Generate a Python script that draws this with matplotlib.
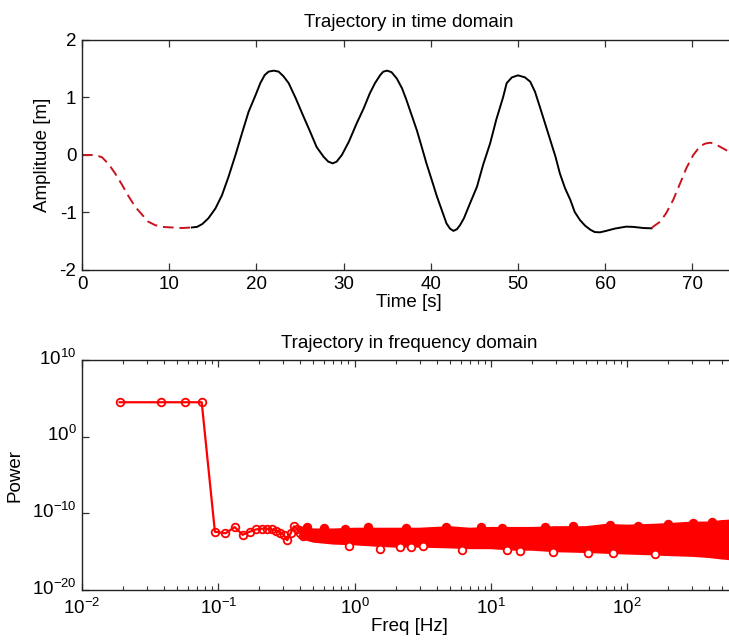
import matplotlib
matplotlib.use('Agg')
import matplotlib.pyplot as plt
import matplotlib.transforms as mtransforms
import numpy as np
from matplotlib.ticker import FixedLocator, NullFormatter, LogLocator

plt.rcParams['font.family'] = ['Liberation Sans', 'DejaVu Sans']
plt.rcParams['mathtext.fontset'] = 'custom'
plt.rcParams['mathtext.rm'] = 'Liberation Sans'
plt.rcParams['mathtext.default'] = 'regular'
plt.rcParams['axes.unicode_minus'] = False

# ---------------- time domain data ----------------
t_red1 = [0.0, 1.5, 2.3, 3.06, 3.8, 4.6, 5.35, 6.1, 6.9, 7.6, 8.4, 9.2, 10.3, 11.5, 12.6]
a_red1 = [0.0, 0.0, -0.04, -0.16, -0.32, -0.52, -0.72, -0.90, -1.04, -1.16, -1.22, -1.25,
          -1.26, -1.27, -1.26]

t_black = [12.6, 13.2, 13.8, 14.5, 15.3, 16.05, 16.8, 17.6, 18.35, 19.1, 19.9, 20.45,
           20.95, 21.4, 22.0, 22.55, 23.1, 23.7, 24.5, 25.4, 26.15, 26.9, 27.7, 28.25,
           28.75, 29.2, 29.8, 30.6, 31.5, 32.3, 33.0, 33.6, 34.2, 34.55, 35.0, 35.5,
           36.1, 36.7, 37.2, 38.4, 38.95, 39.5, 40.1, 40.7, 41.45, 41.8, 42.2, 42.6,
           43.0, 43.35, 43.8, 44.5, 45.3, 46.0, 46.8, 47.5, 48.3, 48.7, 49.3, 50.0,
           50.8, 51.4, 51.95, 52.5, 53.1, 53.7, 54.3, 54.8, 55.4, 56.0, 56.5, 57.1,
           57.7, 58.3, 58.8, 59.4, 60.1, 61.1, 62.4, 63.2, 64.4, 65.3]
a_black = [-1.26, -1.25, -1.20, -1.10, -0.93, -0.70, -0.38, 0.0, 0.38, 0.75, 1.04, 1.25,
           1.39, 1.45, 1.467, 1.45, 1.37, 1.25, 0.99, 0.67, 0.41, 0.14, -0.03, -0.116,
           -0.145, -0.116, 0.0, 0.23, 0.55, 0.81, 1.07, 1.25, 1.39, 1.45, 1.467, 1.44,
           1.33, 1.16, 0.96, 0.43, 0.145, -0.145, -0.43, -0.72, -1.04, -1.19, -1.28, -1.32,
           -1.29, -1.22, -1.10, -0.84, -0.55, -0.17, 0.20, 0.61, 1.01, 1.25, 1.35, 1.385,
           1.35, 1.275, 1.10, 0.84, 0.55, 0.26, -0.03, -0.32, -0.58, -0.78, -0.99, -1.13,
           -1.23, -1.30, -1.34, -1.345, -1.32, -1.28, -1.246, -1.25, -1.27, -1.275]

t_red2 = [65.3, 65.5, 66.3, 67.0, 67.8, 68.6, 69.3, 70.1, 70.9, 71.5, 72.1, 72.8, 73.5,
          74.2, 75.0]
a_red2 = [-1.275, -1.246, -1.16, -1.01, -0.78, -0.49, -0.23, 0.0, 0.156, 0.20, 0.214,
          0.174, 0.116, 0.058, -0.01]

time_ticks = [0, 10, 20, 30, 40, 50, 60, 70]
amp_ticks = [-2, -1, 0, 1, 2]

# ---------------- frequency domain data ----------------
freq_pts = [0.0189, 0.0378, 0.0567, 0.0756, 0.0945, 0.113, 0.132, 0.151, 0.170,
            0.189, 0.208, 0.227, 0.246, 0.265, 0.283, 0.302, 0.321, 0.340, 0.359,
            0.378, 0.397, 0.416]
logp_pts = [4.49, 4.49, 4.49, 4.49, -12.4, -12.6, -11.8, -12.8, -12.4,
            -12.1, -12.0, -12.0, -12.1, -12.25, -12.5, -12.8, -13.5, -12.6, -11.7,
            -12.0, -12.5, -12.9]

band_freq = [0.40, 0.5, 0.7, 1.0, 1.5, 2.0, 3.0, 5.0, 7.0, 10, 15, 20, 30, 50, 70,
             100, 150, 200, 300, 400, 500, 630]
band_upper = [-11.9, -12.2, -12.2, -12.1, -12.1, -12.1, -12.1, -11.9, -12.1, -12.0, -12.0,
              -12.0, -11.9, -11.9, -11.6, -11.7, -11.6, -11.5, -11.3, -11.3, -11.1, -11.0]
band_lower = [-13.1, -13.6, -13.85, -13.95, -14.15, -14.25, -14.25, -14.35, -14.45, -14.45,
              -14.65, -14.65, -14.85, -14.95, -15.05, -15.15, -15.25, -15.35, -15.45, -15.6,
              -15.8, -15.95]

out_freq = [0.906, 1.53, 2.15, 2.61, 3.18, 6.2, 13.1, 16.3, 28.6, 51.6, 79.4, 161]
out_logp = [-14.26, -14.6, -14.35, -14.35, -14.26, -14.78, -14.78, -14.87, -15.1, -15.2,
            -15.15, -15.3]

bump_freq = [0.45, 0.6, 0.85, 1.25, 2.4, 4.7, 8.5, 12, 25, 40, 75, 120, 200, 305, 420]
bump_logp = [-11.8, -11.9, -12.0, -11.8, -11.9, -11.8, -11.8, -11.9, -11.8, -11.7,
             -11.5, -11.6, -11.4, -11.3, -11.1]

power_ticks = [1e-20, 1e-10, 1e0, 1e10]

# ---------------- figure ----------------
fs = 13.5
W, H = 729, 644
fig = plt.figure(figsize=(W / 100, H / 100), dpi=100)

left = 82 / W
width = (736 - 82) / W
ax1 = fig.add_axes([left, 1 - 270 / H, width, 230 / H])
ax2 = fig.add_axes([left, 1 - 590 / H, width, 230 / H])

red_dash = '#C8141E'
ax1.plot(t_red1, a_red1, color=red_dash, lw=1.4, dashes=(5.5, 3.0))
ax1.plot(t_black, a_black, color='black', lw=1.4)
ax1.plot(t_red2, a_red2, color=red_dash, lw=1.4, dashes=(5.5, 3.0))
ax1.set_xlim(0, 75)
ax1.set_ylim(-2, 2)
ax1.set_xticks(time_ticks)
ax1.set_yticks(amp_ticks)
ax1.set_title('Trajectory in time domain', fontsize=fs, pad=9)
ax1.set_xlabel('Time [s]', fontsize=fs, labelpad=1)
ax1.set_ylabel('Amplitude [m]', fontsize=fs, labelpad=6)

red = '#FF0000'
bf = np.array(band_freq)
ax2.fill_between(bf, 10.0 ** np.array(band_lower), 10.0 ** np.array(band_upper),
                 color=red, lw=0, zorder=2)
ax2.plot(bf, 10.0 ** np.array(band_upper), color=red, lw=2.5, zorder=2)
ax2.plot(bf, 10.0 ** np.array(band_lower), color=red, lw=2.5, zorder=2)
ax2.plot(freq_pts, 10.0 ** np.array(logp_pts), color=red, lw=1.6, marker='o',
         ms=5.5, mfc='none', mec=red, mew=1.3, zorder=3)
ax2.plot(out_freq, 10.0 ** np.array(out_logp), ls='none', marker='o', ms=5.5,
         mfc='white', mec=red, mew=1.3, zorder=3)
ax2.plot(bump_freq, 10.0 ** np.array(bump_logp), ls='none', marker='o', ms=5.5,
         mfc=red, mec=red, mew=1.3, zorder=3)
ax2.set_xscale('log')
ax2.set_yscale('log')
ax2.set_xlim(1e-2, 10 ** 2.8)
ax2.set_ylim(1e-20, 1e10)
ax2.yaxis.set_major_locator(FixedLocator(power_ticks))
ax2.yaxis.set_minor_locator(FixedLocator([]))
ax2.xaxis.set_major_locator(LogLocator(base=10, numticks=10))
ax2.xaxis.set_minor_locator(LogLocator(base=10, subs=np.arange(2, 10), numticks=20))
ax2.xaxis.set_minor_formatter(NullFormatter())
ax2.set_title('Trajectory in frequency domain', fontsize=fs, pad=9)
ax2.set_xlabel('Freq [Hz]', fontsize=fs, labelpad=0)
ax2.set_ylabel('Power', fontsize=fs, labelpad=6)

for ax in (ax1, ax2):
    for s in ax.spines.values():
        s.set_linewidth(1.0)
        s.set_color('#222222')
    ax.tick_params(which='major', direction='in', length=5, width=0.9,
                   top=True, right=True, labelsize=fs, pad=4, color='#333333')
    ax.tick_params(which='minor', direction='in', length=3, width=0.8,
                   top=True, right=True, color='#333333')
ax2.tick_params(axis='x', which='major', pad=6)

# shift the log y tick labels up so the base "10" sits on the tick
offset = mtransforms.ScaledTranslation(0, 0.035, fig.dpi_scale_trans)
for tick in ax2.yaxis.get_major_ticks():
    tick.label1.set_transform(tick.label1.get_transform() + offset)

fig.savefig('out.png', dpi=100)
